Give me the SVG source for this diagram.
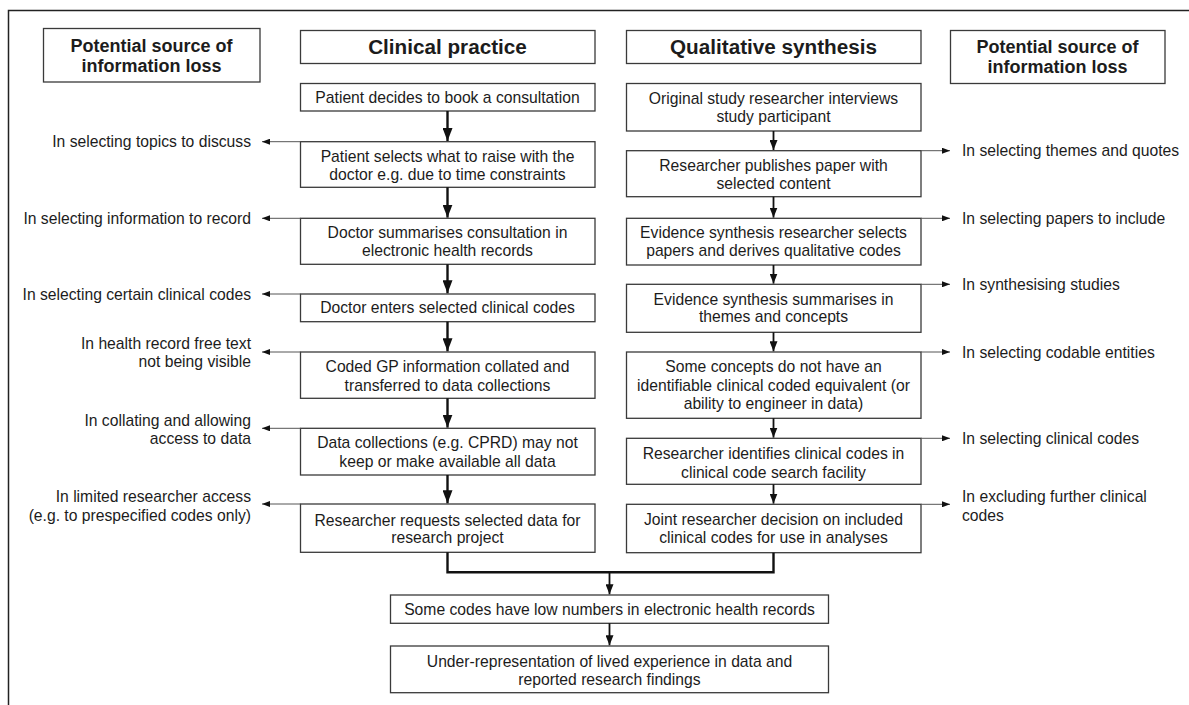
<svg xmlns="http://www.w3.org/2000/svg" width="1189" height="705" viewBox="0 0 1189 705">
<style>
.box{fill:#fff;stroke:#3a3a3a;stroke-width:1.3}
text{font-family:"Liberation Sans",Arial,sans-serif;fill:#1c1c1c}
.t{font-size:15.7px}
.m{text-anchor:middle}
.e{text-anchor:end}
.h{font-size:20.7px;font-weight:bold;text-anchor:middle}
.hs{font-size:18px;font-weight:bold;text-anchor:middle}
.thick{stroke:#111;stroke-width:2.4;fill:none}
.mid{stroke:#111;stroke-width:1.8;fill:none}
.thin{stroke:#555;stroke-width:1;fill:none}
</style>
<defs>
<marker id="ah" markerUnits="userSpaceOnUse" markerWidth="10" markerHeight="13" refX="5" refY="13" viewBox="0 0 10 13">
<path d="M0,0 L10,0 L5,13 z" fill="#111"/>
</marker>
<marker id="ahs" markerUnits="userSpaceOnUse" markerWidth="8" markerHeight="10" refX="4" refY="10" viewBox="0 0 8 10">
<path d="M0,0 L8,0 L4,10 z" fill="#111"/>
</marker>
<marker id="side" markerUnits="userSpaceOnUse" markerWidth="8" markerHeight="6" refX="8" refY="3" orient="auto" viewBox="0 0 8 6">
<path d="M0,0 L8,3 L0,6 z" fill="#111"/>
</marker>
</defs>
<rect width="1189" height="705" fill="#fff"/>
<path d="M8.5,705 V10.5 H1189" fill="none" stroke="#222" stroke-width="1.5"/>

<g id="hdr-loss-left"><rect class="box" x="43.5" y="28.5" width="216.5" height="53.5"/><text class="hs" x="151.5" y="51.5">Potential source of</text><text class="hs" x="151.5" y="71.5">information loss</text></g>
<g id="hdr-clinical"><rect class="box" x="300.5" y="30.5" width="294.5" height="33"/><text class="h" x="447.5" y="54">Clinical practice</text></g>
<g id="hdr-qual"><rect class="box" x="626.5" y="30.5" width="294.5" height="33"/><text class="h" x="773.5" y="54">Qualitative synthesis</text></g>
<g id="hdr-loss-right"><rect class="box" x="950.5" y="30.5" width="214.5" height="53"/><text class="hs" x="1057.5" y="53">Potential source of</text><text class="hs" x="1057.5" y="73">information loss</text></g>

<g id="c1"><rect class="box" x="300.5" y="83.5" width="294.5" height="27.5"/><text class="t m" x="447.5" y="102.5">Patient decides to book a consultation</text></g>
<g id="c2"><rect class="box" x="300.5" y="141.7" width="294.5" height="45.6"/><text class="t m" x="447.5" y="161.5">Patient selects what to raise with the</text><text class="t m" x="447.5" y="180">doctor e.g. due to time constraints</text></g>
<g id="c3"><rect class="box" x="300.5" y="218.3" width="294.5" height="46"/><text class="t m" x="447.5" y="237.5">Doctor summarises consultation in</text><text class="t m" x="447.5" y="255.8">electronic health records</text></g>
<g id="c4"><rect class="box" x="300.5" y="294" width="294.5" height="27.7"/><text class="t m" x="447.5" y="313.2">Doctor enters selected clinical codes</text></g>
<g id="c5"><rect class="box" x="300.5" y="352" width="294.5" height="46.3"/><text class="t m" x="447.5" y="372.2">Coded GP information collated and</text><text class="t m" x="447.5" y="390.5">transferred to data collections</text></g>
<g id="c6"><rect class="box" x="300.5" y="428.3" width="294.5" height="46.7"/><text class="t m" x="447.5" y="447.8">Data collections (e.g. CPRD) may not</text><text class="t m" x="447.5" y="466.5">keep or make available all data</text></g>
<g id="c7"><rect class="box" x="300.5" y="504" width="294.5" height="48.3"/><text class="t m" x="447.5" y="525.5">Researcher requests selected data for</text><text class="t m" x="447.5" y="543">research project</text></g>

<g id="q1"><rect class="box" x="626.5" y="83.5" width="294.5" height="47.5"/><text class="t m" x="773.5" y="103.8">Original study researcher interviews</text><text class="t m" x="773.5" y="122.2">study participant</text></g>
<g id="q2"><rect class="box" x="626.5" y="150.7" width="294.5" height="46"/><text class="t m" x="773.5" y="170.5">Researcher publishes paper with</text><text class="t m" x="773.5" y="189">selected content</text></g>
<g id="q3"><rect class="box" x="626.5" y="218.3" width="294.5" height="46.7"/><text class="t m" x="773.5" y="237.8">Evidence synthesis researcher selects</text><text class="t m" x="773.5" y="255.5">papers and derives qualitative codes</text></g>
<g id="q4"><rect class="box" x="626.5" y="284.3" width="294.5" height="48"/><text class="t m" x="773.5" y="304.5">Evidence synthesis summarises in</text><text class="t m" x="773.5" y="322.2">themes and concepts</text></g>
<g id="q5"><rect class="box" x="626.5" y="352" width="294.5" height="66.3"/><text class="t m" x="773.5" y="372.2">Some concepts do not have an</text><text class="t m" x="773.5" y="390.5">identifiable clinical coded equivalent (or</text><text class="t m" x="773.5" y="408.8">ability to engineer in data)</text></g>
<g id="q6"><rect class="box" x="626.5" y="438.3" width="294.5" height="46"/><text class="t m" x="773.5" y="458.8">Researcher identifies clinical codes in</text><text class="t m" x="773.5" y="477.5">clinical code search facility</text></g>
<g id="q7"><rect class="box" x="626.5" y="504.3" width="294.5" height="48.4"/><text class="t m" x="773.5" y="524.8">Joint researcher decision on included</text><text class="t m" x="773.5" y="542.5">clinical codes for use in analyses</text></g>

<g id="s1"><rect class="box" x="390.5" y="595" width="438" height="28.3"/><text class="t m" x="609.5" y="615.3">Some codes have low numbers in electronic health records</text></g>
<g id="s2"><rect class="box" x="390.5" y="646" width="438" height="46.7"/><text class="t m" x="609.5" y="667.2">Under-representation of lived experience in data and</text><text class="t m" x="609.5" y="684.8">reported research findings</text></g>

<g id="labels-left">
<text class="t e" x="251" y="147.2">In selecting topics to discuss</text>
<text class="t e" x="251" y="223.8">In selecting information to record</text>
<text class="t e" x="251" y="299.5">In selecting certain clinical codes</text>
<text class="t e" x="251" y="348.8">In health record free text</text>
<text class="t e" x="251" y="367.2">not being visible</text>
<text class="t e" x="251" y="425.5">In collating and allowing</text>
<text class="t e" x="251" y="443.8">access to data</text>
<text class="t e" x="251" y="502.2">In limited researcher access</text>
<text class="t e" x="251" y="520.5">(e.g. to prespecified codes only)</text>
</g>
<g id="labels-right">
<text class="t" x="962" y="156.2">In selecting themes and quotes</text>
<text class="t" x="962" y="223.8">In selecting papers to include</text>
<text class="t" x="962" y="289.8">In synthesising studies</text>
<text class="t" x="962" y="357.5">In selecting codable entities</text>
<text class="t" x="962" y="443.8">In selecting clinical codes</text>
<text class="t" x="962" y="502.2">In excluding further clinical</text>
<text class="t" x="962" y="520.5">codes</text>
</g>

<g id="connectors">
<g class="thick" marker-end="url(#ah)">
<path d="M447.5,111 V141"/>
<path d="M447.5,187.3 V217.6"/>
<path d="M447.5,264.3 V293.3"/>
<path d="M447.5,321.7 V351.3"/>
<path d="M447.5,398.3 V427.6"/>
<path d="M447.5,475 V503.3"/>
</g>
<g class="mid" marker-end="url(#ahs)">
<path d="M773.5,131 V150"/>
<path d="M773.5,196.7 V217.6"/>
<path d="M773.5,265 V283.6"/>
<path d="M773.5,332.3 V351.3"/>
<path d="M773.5,418.3 V437.6"/>
<path d="M773.5,484.3 V503.6"/>
</g>
<path class="thick" d="M447.5,552.3 V572.3 H773.5 V552.7"/>
<path class="mid" d="M609.5,572.3 V594.3" marker-end="url(#ahs)"/>
<path class="mid" d="M609.5,623.3 V645.3" marker-end="url(#ahs)"/>
<g class="thin" marker-end="url(#side)">
<path d="M300.5,141.7 H262"/>
<path d="M300.5,218.3 H262"/>
<path d="M300.5,294 H262"/>
<path d="M300.5,352 H262"/>
<path d="M300.5,428.3 H262"/>
<path d="M300.5,504 H262"/>
<path d="M921,150.7 H950"/>
<path d="M921,218.3 H950"/>
<path d="M921,284.3 H950"/>
<path d="M921,352 H950"/>
<path d="M921,438.3 H950"/>
<path d="M921,504.3 H950"/>
</g>
</g>
</svg>
